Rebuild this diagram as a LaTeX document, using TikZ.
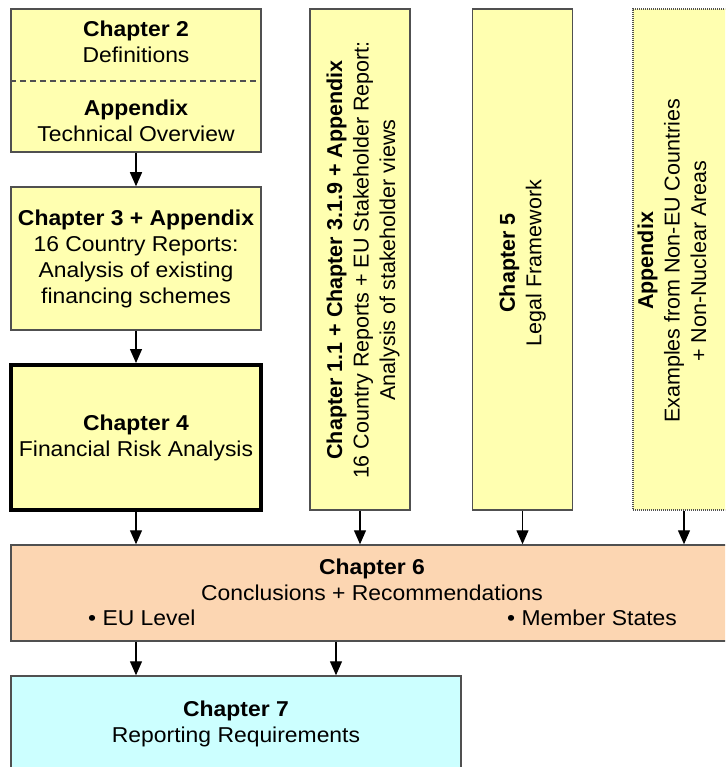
\documentclass[tikz,border=0pt]{standalone}
\usepackage{fontspec}
\setmainfont{Liberation Sans}
\newfontfamily\widefont[FakeStretch=1.065]{Liberation Sans}
\usetikzlibrary{arrows.meta}
\definecolor{ylw}{RGB}{255,255,176}
\definecolor{peach}{RGB}{252,214,178}
\definecolor{cyn}{RGB}{204,255,255}
\definecolor{bord}{RGB}{80,80,80}
\begin{document}
\begin{tikzpicture}[x=1pt,y=-1pt,
 box/.style={draw=bord, line width=1.5pt, fill=ylw, inner sep=0pt, align=center, font=\widefont\fontsize{21.5}{26}\selectfont},
 arr/.style={line width=1.3pt, -{Triangle[length=14pt,width=12pt]}},
 txt/.style={inner sep=0pt, align=center, font=\widefont\fontsize{21.5}{26}\selectfont},
 vtxt/.style={inner sep=0pt, align=center, rotate=90, font=\fontsize{21.5}{26.5}\selectfont}]
\useasboundingbox (0,0) rectangle (725,767);
\clip (0,0) rectangle (725,767);
% left column
\node[box, minimum width=250pt, minimum height=143pt] (b1) at (136,80.5) {};
\coordinate (dl) at (0,81);
\draw[bord, line width=1.3pt, dash pattern=on 6pt off 4pt] (b1.west |- dl) -- (b1.east |- dl);
\node[txt] (c2) at (136,41.5) {\textbf{Chapter 2}\\Definitions};
\node[txt] (ap1) at (136,120.5) {\textbf{Appendix}\\Technical Overview};
\node[box, minimum width=250pt, minimum height=143pt] (b2) at (136,258.5)
 {\textbf{Chapter 3 + Appendix}\\16 Country Reports:\\Analysis of existing\\financing schemes};
\node[box, draw=black, line width=4pt, minimum width=250pt, minimum height=145pt] (b3) at (136,437.5)
 {\textbf{Chapter 4}\\Financial Risk Analysis};
% vertical boxes
\node[box, minimum width=100pt, minimum height=501pt] (bA) at (360,259.5) {};
\node[vtxt] (tA) at (363,260) {\textbf{Chapter 1.1 + Chapter 3.1.9 + Appendix}\\16 Country Reports + EU Stakeholder Report:\\Analysis of stakeholder views};
\node[box, minimum width=100pt, minimum height=501pt] (bB) at (522.5,259.5) {};
\node[vtxt] (tB) at (522.5,263) {\textbf{Chapter 5}\\Legal Framework};
\node[box, dash pattern=on 1pt off 1pt, line width=1.2pt, minimum width=102pt, minimum height=501pt] (bC) at (684,259.5) {};
\node[vtxt] (tC) at (672,261) {\textbf{Appendix}\\Examples from Non-EU Countries\\+ Non-Nuclear Areas};
% chapter 6
\node[box, fill=peach, minimum width=749pt, minimum height=96pt] (c6) at (385.5,593) {};
\node[txt] (t6) at (372,579.5) {\textbf{Chapter 6}\\Conclusions + Recommendations};
\node[txt, anchor=west] (eu) at (88,618) {\textbullet\ EU Level};
\node[txt, anchor=west] (ms) at (507,618) {\textbullet\ Member States};
% chapter 7
\node[box, fill=cyn, minimum width=450pt, minimum height=124pt] (c7) at (236,738) {};
\node[txt] (t7) at (236,723.5) {\textbf{Chapter 7}\\Reporting Requirements};
% arrows
\draw[arr] (b1.south) -- (b2.north);
\draw[arr] (b2.south) -- (b3.north);
\draw[arr] (b3.south) -- (b3.south |- c6.north);
\draw[arr] (bA.south) -- (bA.south |- c6.north);
\draw[arr] (bB.south) -- (bB.south |- c6.north);
\draw[arr] (bC.south) -- (bC.south |- c6.north);
\coordinate (m) at (336,0);
\draw[arr] (c6.south -| b3.south) -- (c7.north -| b3.south);
\draw[arr] (c6.south -| m) -- (c7.north -| m);
\end{tikzpicture}
\end{document}
